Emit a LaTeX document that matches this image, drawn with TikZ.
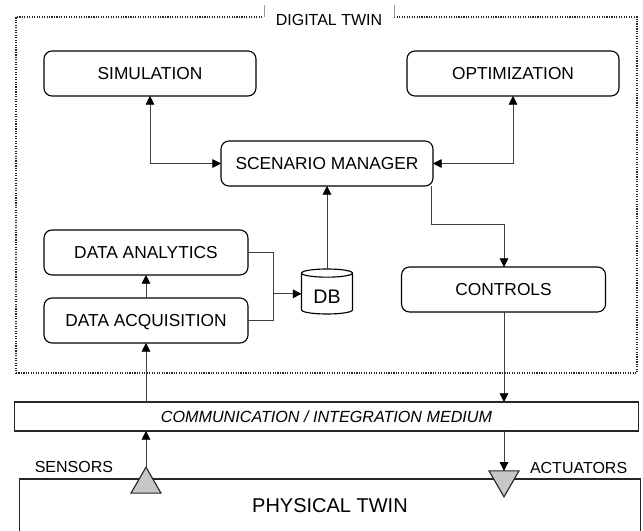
\documentclass[tikz,border=0pt]{standalone}
\usepackage{fontspec}
\setmainfont{Liberation Sans}
\usetikzlibrary{shapes}
\usetikzlibrary{arrows.meta}
\usetikzlibrary{positioning}

\begin{document}
\begin{tikzpicture}[x=0.75pt,y=-0.75pt,>={Triangle[length=6.5pt,width=6.5pt,color=black]},
	box/.style={rectangle,rounded corners=6pt,draw=black,line width=0.85pt,fill=white,outer sep=0pt,minimum width=159pt,minimum height=33.75pt,text depth=0pt,font=\fontsize{13}{15}\selectfont},
	flat/.style={rectangle,draw=black!85,line width=0.85pt,outer sep=0pt},
	tag/.style={inner sep=0pt,outer sep=0pt,font=\fontsize{12}{14}\selectfont},
	wire/.style={draw=black!75,line width=0.55pt},
	tri/.style={regular polygon,regular polygon sides=3,draw=black!85,fill=black!22,line width=0.85pt,inner sep=0pt,outer sep=0pt,minimum size=26pt}]
	  \clip (0,0) rectangle (643,531);

	  \node[flat,densely dotted,minimum width=465.75pt,minimum height=267pt] (digital) at (326.5,195) {};
	  \node[rectangle,fill=white,outer sep=0pt,minimum width=97.5pt,minimum height=22.5pt,font=\fontsize{12}{14}\selectfont] (digitallabel) at (329,20) {DIGITAL TWIN};
	  \draw[draw=black!40,line width=0.5pt] (digitallabel.north west) -- +(0,12);
	  \draw[draw=black!40,line width=0.5pt] (digitallabel.north east) -- +(0,12);

	  \node[box] (simulation) at (150,73.5) {SIMULATION};
	  \node[box] (optimization) [right = 113.25pt of simulation] {OPTIMIZATION};
	  \node[box] (scenario) [below = 33.75pt of simulation, xshift=132.75pt] {SCENARIO MANAGER};
	  \node[box,minimum width=153pt] (analytics) [below = 100.5pt of simulation, xshift=-3pt] {DATA ANALYTICS};
	  \node[box,minimum width=153pt] (acquisition) [below = 17.25pt of analytics] {DATA ACQUISITION};
	  \node[box,minimum width=153pt] (controls) [below = 128.25pt of optimization, xshift=-7.1pt] {CONTROLS};
	  \node[cylinder,shape border rotate=90,shape aspect=0.3,draw=black,line width=0.85pt,fill=white,outer sep=0pt,inner sep=0pt,minimum width=38.25pt,minimum height=33.75pt,text height=14pt,text depth=0pt,font=\fontsize{14.7}{16}\selectfont] (db) [below = 62.25pt of scenario] {DB};
	  \coordinate[left = 21pt of db.west] (merge);

	  \node[flat,minimum width=468pt,minimum height=21.75pt,text depth=0pt,font=\fontsize{12.1}{14}\selectfont\itshape] (comm) [below = 21.75pt of digital] {COMMUNICATION / INTEGRATION MEDIUM};
	  \node[flat,minimum width=465.75pt,minimum height=49.5pt,label={[yshift=4.75pt,font=\fontsize{15}{17}\selectfont]center:PHYSICAL TWIN}] (physical) [below = 36pt of comm, xshift=2.6pt] {};

	  \node[tri] (sensors) at (146,484.5) {};
	  \node[tri,shape border rotate=180] (actuators) at (504,479.5) {};
	  \node[tag] (sensorlabel) [left = 24.75pt of sensors.north] {SENSORS};
	  \node[tag,fill=white] (actuatorlabel) [right = 19.5pt of actuators.north, yshift=2.25pt] {ACTUATORS};

	  \path[wire]
	    (simulation.south) edge [<->,to path={|- (\tikztotarget)}] (scenario.west)
	    (optimization.south) edge [<->,to path={|- (\tikztotarget)}] (scenario.east)
	    (db.north) edge [->] (scenario.south)
	    (acquisition.north) edge [->] (analytics.south)
	    (comm.north -| acquisition) edge [->] (acquisition.south)
	    (sensors.north) edge [->] (sensors.north |- comm.south)
	    (controls.south -| actuators) edge [->] (actuators.north |- comm.north)
	    (actuators.north |- comm.south) edge [->] (actuators.north)
	    (merge) edge [->] (db.west)
	    (analytics.east) edge [to path={-| (\tikztotarget)}] (merge)
	    (acquisition.east) edge [to path={-| (\tikztotarget)}] (merge);
	  \draw[wire,->] ([xshift=-1.5pt]scenario.south east) -- ++(0,38) -| (controls.north -| actuators);
	\end{tikzpicture}
\end{document}
